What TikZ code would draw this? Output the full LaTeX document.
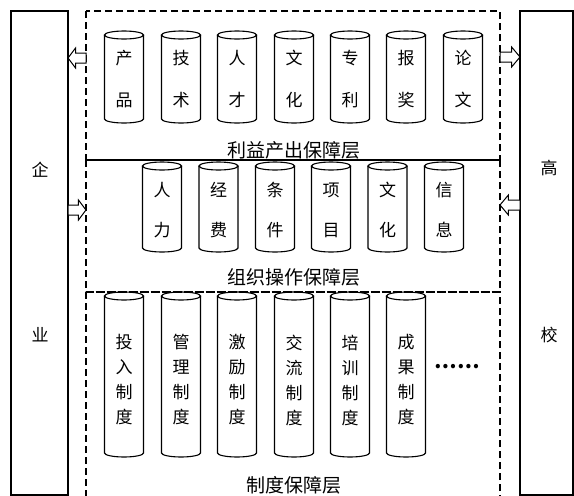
\documentclass[tikz,border=0pt]{standalone}
\usepackage{fontspec}
\newfontfamily\cjk{Noto Sans CJK SC}
\begin{document}
\begin{tikzpicture}[x=1pt,y=-1pt,
  font=\cjk\fontsize{17}{25}\selectfont,
  sidebox/.style={draw,line width=1.1pt,inner sep=0pt},
  layerbox/.style={draw,line width=1.3pt,dash pattern=on 7pt off 4pt},
  cylline/.style={draw,line width=1.1pt},
  cyltext/.style={align=center,inner sep=0pt},
  laylabel/.style={font=\cjk\fontsize{19}{22}\selectfont,inner sep=0pt},
  harrow/.style={draw,line width=1pt,fill=white}]
\useasboundingbox (0,0) rectangle (574,496);
\clip (0,0) rectangle (574,496);
\newcommand\cyl[6]{%
  \draw[cylline] (#2,#3+4) ellipse[x radius=19.5pt,y radius=4pt];
  \draw[cylline] (#2-19.5,#3+4) -- (#2-19.5,#4-4) arc[start angle=180,end angle=360,x radius=19.5pt,y radius=4pt] -- (#2+19.5,#3+4);
  \node[cyltext] (#1) at (#2,#5) {#6};
}
\newcommand\harr[3]{% tail x, tip x, y
  \pgfmathsetmacro\hx{#2+(#1-#2)*0.42}
  \draw[harrow] (#1,#3-5) -- (\hx,#3-5) -- (\hx,#3-10) -- (#2,#3) -- (\hx,#3+10) -- (\hx,#3+5) -- (#1,#3+5) -- cycle;
}
% side boxes
\node[sidebox,minimum width=57pt,minimum height=484pt] (ent) at (39.5,253) {};
\node[sidebox,minimum width=53pt,minimum height=484pt] (uni) at (546.5,253) {};
\node (qi) at (40,170) {企};
\node (ye) at (40,335) {业};
\node (gao) at (549,168) {高};
\node (xiao) at (549,335) {校};
% layers
\draw[layerbox] (86,11) rectangle (500,160);
\draw[layerbox] (86,160) rectangle (500,292);
\draw[layerbox] (86,292) rectangle (500,520);
\draw[line width=1.1pt] (86,160) -- (500,160);
\draw[line width=2pt,dash pattern=on 7pt off 4pt,dash phase=1.5pt] (86,292) -- (500,292);
% row 1
\cyl{a1}{124}{31}{123}{79}{产\\[17pt]品}
\cyl{a2}{181}{31}{123}{79}{技\\[17pt]术}
\cyl{a3}{237}{31}{123}{79}{人\\[17pt]才}
\cyl{a4}{294}{31}{123}{79}{文\\[17pt]化}
\cyl{a5}{350}{31}{123}{79}{专\\[17pt]利}
\cyl{a6}{406}{31}{123}{79}{报\\[17pt]奖}
\cyl{a7}{463}{31}{123}{79}{论\\[17pt]文}
\node[laylabel] (l1) at (293.5,150) {利益产出保障层};
% row 2
\cyl{b1}{162}{162}{252}{210}{人\\[15pt]力}
\cyl{b2}{218.5}{162}{252}{210}{经\\[15pt]费}
\cyl{b3}{275}{162}{252}{210}{条\\[15pt]件}
\cyl{b4}{331}{162}{252}{210}{项\\[15pt]目}
\cyl{b5}{387.5}{162}{252}{210}{文\\[15pt]化}
\cyl{b6}{444}{162}{252}{210}{信\\[15pt]息}
\node[laylabel] (l2) at (293.5,277) {组织操作保障层};
% row 3
\cyl{c1}{124}{292}{457}{380}{投\\入\\制\\度}
\cyl{c2}{181}{292}{457}{380}{管\\理\\制\\度}
\cyl{c3}{237}{292}{457}{380}{激\\励\\制\\度}
\cyl{c4}{294}{292}{457}{380}{交\\流\\制\\度}
\cyl{c5}{350}{292}{457}{380}{培\\训\\制\\度}
\cyl{c6}{406}{292}{457}{380}{成\\果\\制\\度}
\node (dots) at (457,367) {\fontsize{20}{20}\selectfont\bfseries ……};
\node[laylabel] (l3) at (293.5,485.5) {制度保障层};
% arrows
\harr{86}{68}{58}
\harr{500}{520}{57}
\harr{68}{86}{210}
\harr{520}{500}{205}
\end{tikzpicture}
\end{document}
